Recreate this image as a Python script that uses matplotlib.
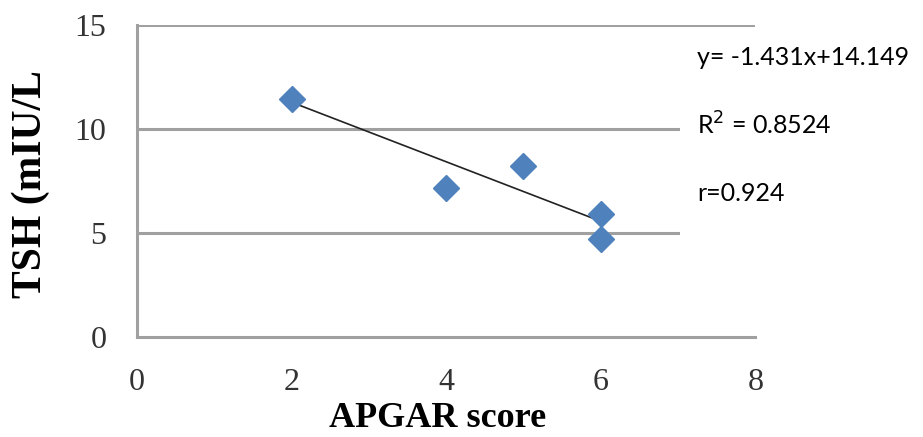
import numpy as np
import matplotlib
matplotlib.use("Agg")
import matplotlib.pyplot as plt
from matplotlib.patches import Rectangle

# data
apgar = [2, 4, 5, 6, 6]
tsh = [11.45, 7.15, 8.2, 5.9, 4.7]
slope = -1.431
intercept = 14.149
eq_lines = ["y= -1.431x+14.149", r"R$^2$ = 0.8524", "r=0.924"]
x_ticks = [0, 2, 4, 6, 8]
y_ticks = [0, 5, 10, 15]

grid_col = "#a0a0a0"
marker_col = "#4f81bd"

fig = plt.figure(figsize=(9.23, 4.37), dpi=100)
ax = fig.add_axes([0.1484, 0.2288, 0.6700, 0.7140])

ax.set_xlim(0, 8)
ax.set_ylim(0, 15)

# horizontal gridlines
for yv in y_ticks[1:]:
    ax.axhline(yv, color=grid_col, lw=2.2, zorder=1)

# trend line over the data range
xs = np.array([min(apgar), max(apgar)])
ax.plot(xs, slope * xs + intercept, color="#222222", lw=1.2, zorder=3)

ax.plot(apgar, tsh, linestyle="none", marker="D", ms=13.5,
        color=marker_col, markeredgecolor=marker_col, zorder=4)

# white box behind the equation text hides the grid on the right
ax.add_patch(Rectangle((7.03, 1.2), 2.0, 13.3, facecolor="white",
                       edgecolor="none", zorder=2, clip_on=False))

for s in ["top", "right"]:
    ax.spines[s].set_visible(False)
for s in ["left", "bottom"]:
    ax.spines[s].set_color(grid_col)
    ax.spines[s].set_linewidth(2.2)

ax.set_xticks(x_ticks)
ax.set_yticks(y_ticks)
ax.tick_params(length=0, labelsize=23)
ax.tick_params(axis="x", pad=22)
ax.tick_params(axis="y", pad=22)
for lab in ax.get_xticklabels() + ax.get_yticklabels():
    lab.set_fontfamily("Liberation Serif")
    lab.set_color("#333333")

fig.text(0.474, 0.024, "APGAR score", ha="center", va="baseline",
         fontsize=26, fontweight="bold", family="Liberation Serif")
fig.text(0.033, 0.58, "TSH (mIU/L", ha="center", va="center", rotation=90,
         fontsize=30, fontweight="bold", family="Liberation Serif")

for i, t in enumerate(eq_lines):
    fig.text(0.755, 0.868 - i * 0.155, t, ha="left", va="center",
             fontsize=18, family="Lato")

fig.savefig("out.png", dpi=100)
